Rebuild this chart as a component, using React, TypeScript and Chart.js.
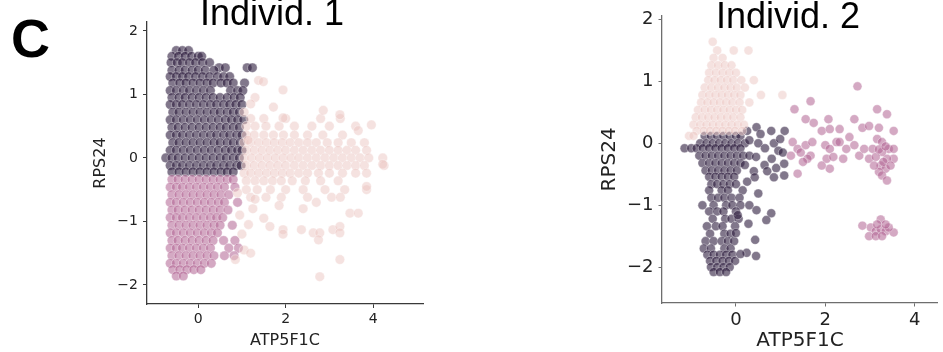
import React, { useEffect, useRef } from "react";
import { Chart, registerables } from "chart.js";

Chart.register(...registerables);

// ---------- Panel 1 (Individ. 1) ----------
// rows: [y, x values]
const ind1DarkRows: [number, number[]][] = [
  [1.69, [-0.5, -0.36, -0.22]],
  [1.6, [-0.6, -0.45, -0.3, -0.15, 0.0, 0.08]],
  [1.5, [-0.62, -0.48, -0.36, -0.2, -0.06, 0.1, 0.26]],
  [1.42, [0.48, 0.62, 1.12, 1.24]],
  [1.38, [-0.6, -0.44, -0.3, -0.14, 0.0, 0.16, 0.36]],
  [1.28, [-0.64, -0.5, -0.36, -0.22, -0.06, 0.1, 0.26, 0.44, 0.58, 0.72]],
  [1.18, [-0.58, -0.42, -0.28, -0.12, 0.04, 0.2, 0.34, 0.52, 0.66, 0.8, 1.06]],
  [1.06, [-0.64, -0.5, -0.34, -0.2, -0.04, 0.12, 0.28, 0.74, 0.9, 1.02]],
  [0.95, [-0.6, -0.44, -0.3, -0.14, 0.02, 0.18, 0.34, 0.5, 0.66, 0.82, 0.96]],
  [0.84, [-0.64, -0.5, -0.36, -0.2, -0.04, 0.12, 0.28, 0.42, 0.58, 0.72, 0.86, 1.0]],
  [0.72, [-0.58, -0.44, -0.28, -0.12, 0.04, 0.2, 0.36, 0.5, 0.66, 0.8, 0.94]],
  [0.6, [-0.64, -0.5, -0.34, -0.18, -0.02, 0.14, 0.3, 0.46, 0.62, 0.76, 0.9, 1.04]],
  [0.48, [-0.6, -0.46, -0.3, -0.14, 0.02, 0.18, 0.34, 0.5, 0.64, 0.8, 0.94]],
  [0.36, [-0.64, -0.5, -0.36, -0.2, -0.04, 0.12, 0.28, 0.42, 0.58, 0.72, 0.88, 1.0]],
  [0.24, [-0.58, -0.44, -0.28, -0.12, 0.04, 0.2, 0.36, 0.5, 0.66, 0.8, 0.96]],
  [0.12, [-0.64, -0.5, -0.34, -0.18, -0.02, 0.14, 0.3, 0.46, 0.62, 0.76, 0.9, 1.0]],
  [0.0, [-0.74, -0.6, -0.46, -0.3, -0.14, 0.02, 0.18, 0.34, 0.5, 0.64, 0.8, 0.94]],
  [-0.12, [-0.64, -0.5, -0.36, -0.2, -0.04, 0.12, 0.28, 0.42, 0.58, 0.72, 0.88, 0.98]],
  [-0.22, [-0.6, -0.44, -0.28, -0.12, 0.04, 0.2, 0.36, 0.52, 0.66, 0.8]],
];

const ind1PinkRows: [number, number[]][] = [
  [-0.34, [-0.6, -0.46, -0.3, -0.14, 0.02, 0.18, 0.34, 0.5, 0.66, 0.8]],
  [-0.46, [-0.64, -0.5, -0.36, -0.2, -0.04, 0.12, 0.28, 0.44, 0.6, 0.84]],
  [-0.58, [-0.6, -0.44, -0.28, -0.12, 0.04, 0.2, 0.36, 0.52, 0.7]],
  [-0.7, [-0.64, -0.5, -0.34, -0.18, -0.02, 0.14, 0.3, 0.46, 0.6, 0.9]],
  [-0.82, [-0.6, -0.46, -0.3, -0.14, 0.02, 0.18, 0.34, 0.5, 0.68]],
  [-0.94, [-0.64, -0.5, -0.36, -0.2, -0.04, 0.12, 0.28, 0.42, 0.56]],
  [-1.06, [-0.6, -0.44, -0.28, -0.12, 0.04, 0.2, 0.36, 0.5, 0.78]],
  [-1.18, [-0.64, -0.5, -0.34, -0.18, -0.02, 0.14, 0.3, 0.44]],
  [-1.3, [-0.6, -0.46, -0.3, -0.14, 0.02, 0.18, 0.34, 0.58, 0.84]],
  [-1.42, [-0.64, -0.5, -0.36, -0.2, -0.04, 0.12, 0.28, 0.7, 0.92]],
  [-1.54, [-0.6, -0.44, -0.28, -0.12, 0.04, 0.2, 0.36, 0.6, 0.82]],
  [-1.66, [-0.64, -0.5, -0.34, -0.18, -0.02, 0.14, 0.3]],
  [-1.76, [-0.58, -0.42, -0.26, -0.1, 0.06]],
  [-1.86, [-0.5, -0.34]],
];

const ind1LightRows: [number, number[]][] = [
  [0.62, [1.2, 1.5, 2.0, 2.8, 3.25]],
  [0.5, [1.1, 1.3, 1.55, 1.85, 2.2, 2.6, 3.0, 3.6]],
  [0.36, [1.1, 1.28, 1.5, 1.72, 1.95, 2.2, 2.5, 2.85, 3.3]],
  [0.24, [1.05, 1.2, 1.38, 1.56, 1.74, 1.92, 2.1, 2.3, 2.5, 2.7, 2.95, 3.2, 3.5, 3.8]],
  [0.12, [1.1, 1.28, 1.46, 1.64, 1.82, 2.0, 2.2, 2.4, 2.6, 2.8, 3.0, 3.2, 3.4, 3.6, 3.85]],
  [0.0, [1.05, 1.22, 1.4, 1.58, 1.76, 1.94, 2.12, 2.3, 2.5, 2.7, 2.9, 3.1, 3.3, 3.5, 3.7, 3.9, 4.22]],
  [-0.12, [1.1, 1.28, 1.46, 1.64, 1.82, 2.0, 2.2, 2.4, 2.6, 2.8, 3.0, 3.2, 3.4, 3.6, 3.8, 4.25]],
  [-0.24, [1.05, 1.2, 1.38, 1.56, 1.74, 1.92, 2.1, 2.3, 2.5, 2.75, 3.0, 3.3, 3.6, 3.85]],
  [-0.36, [1.1, 1.3, 1.5, 1.7, 1.9, 2.15, 2.45, 2.8, 3.2]],
  [-0.5, [1.1, 1.35, 1.65, 2.0, 2.4, 2.9, 3.35, 3.85]],
  [-0.62, [1.2, 1.55, 1.9, 2.5, 3.05, 3.25]],
];

const ind1LightScatter: [number, number][] = [
  [1.38, 1.22], [1.49, 1.2], [1.94, 1.07], [1.3, 0.95], [1.72, 0.8], [1.94, 0.63],
  [2.86, 0.75], [3.24, 0.68], [3.66, 0.43], [3.96, 0.52], [1.14, 0.28], [4.22, -0.1],
  [3.85, -0.45], [1.25, -0.8], [1.5, -0.95], [1.85, -0.75], [2.4, -0.8], [2.7, -0.7],
  [3.47, -0.87], [3.66, -0.87], [1.64, -1.08], [1.94, -1.13], [1.94, -1.2], [2.36, -1.13],
  [2.63, -1.18], [2.78, -1.18], [3.08, -1.13], [3.24, -1.08], [3.24, -1.18], [2.75, -1.29],
  [3.24, -1.6], [2.78, -1.87], [0.9, -0.55], [0.95, -0.9], [1.0, -1.2], [0.85, -1.6],
  [1.05, -1.45], [1.2, -1.5], [1.15, -1.05], [1.3, -0.65], [1.05, 0.72], [1.2, 0.85],
];

// ---------- Panel 2 (Individ. 2) ----------
const ind2LightRows: [number, number[]][] = [
  [1.64, [-0.52]],
  [1.5, [-0.42, -0.05, 0.28]],
  [1.38, [-0.5, -0.3]],
  [1.26, [-0.55, -0.4, -0.25, -0.1]],
  [1.14, [-0.6, -0.45, -0.3, -0.15, 0.0]],
  [1.02, [-0.62, -0.48, -0.34, -0.2, -0.06, 0.12, 0.4]],
  [0.9, [-0.7, -0.55, -0.4, -0.26, -0.12, 0.02, 0.2]],
  [0.78, [-0.75, -0.6, -0.46, -0.32, -0.18, -0.04, 0.1, 0.56, 1.04]],
  [0.66, [-0.78, -0.64, -0.5, -0.36, -0.22, -0.08, 0.08, 0.3]],
  [0.54, [-0.85, -0.7, -0.56, -0.42, -0.28, -0.14, 0.0, 0.14]],
  [0.42, [-0.9, -0.76, -0.62, -0.48, -0.34, -0.2, -0.06, 0.1]],
  [0.3, [-0.95, -0.8, -0.66, -0.52, -0.38, -0.24, -0.1, 0.04, 0.18]],
  [0.2, [-0.88, -0.72, -0.58, -0.44, -0.3, -0.16, -0.02, 0.14]],
  [0.12, [-1.05, -0.95]],
];

const ind2DarkRows: [number, number[]][] = [
  [0.12, [-0.7, -0.56, -0.42, -0.28, -0.14, 0.0, 0.1]],
  [0.0, [-0.8, -0.66, -0.52, -0.38, -0.24, -0.1, 0.04, 0.2]],
  [-0.08, [-1.15, -1.0, -0.88, -0.74, -0.6, -0.46, -0.32, -0.18, -0.04, 0.1]],
  [-0.2, [-0.82, -0.68, -0.54, -0.4, -0.26, -0.12, 0.02, 0.16]],
  [-0.32, [-0.75, -0.6, -0.46, -0.32, -0.18, -0.04, 0.1]],
  [-0.44, [-0.68, -0.54, -0.4, -0.26, -0.12, 0.02]],
  [-0.54, [-0.6, -0.46, -0.32, -0.18, -0.04]],
  [-0.66, [-0.55, -0.42, -0.28, -0.14, 0.0]],
  [-0.76, [-0.6, -0.32, -0.18, 0.15]],
  [-0.88, [-0.55, -0.4, -0.26, -0.1, 0.08]],
  [-1.0, [-0.75, -0.5, -0.22, -0.08, 0.1, 0.3]],
  [-1.1, [-0.6, -0.42, -0.28, 0.0]],
  [-1.22, [-0.52, -0.24, -0.1, 0.06]],
  [-1.34, [-0.65, -0.45, -0.3, -0.02]],
  [-1.46, [-0.58, -0.26, -0.12]],
  [-1.58, [-0.68, -0.5, -0.32, -0.18, -0.04]],
  [-1.7, [-0.72, -0.56, -0.26, -0.12]],
  [-1.8, [-0.64, -0.5, -0.36, -0.22, -0.08]],
  [-1.9, [-0.58, -0.44, -0.3, -0.16, -0.02]],
  [-2.0, [-0.56, -0.42, -0.28, -0.14]],
  [-2.08, [-0.5, -0.36, -0.22]],
];

const ind2DarkScatter: [number, number][] = [
  [0.25, 0.2], [0.46, 0.26], [0.55, 0.15], [0.79, 0.2], [1.09, 0.2], [0.3, 0.05],
  [0.5, 0.0], [0.65, -0.08], [0.85, 0.0], [0.99, 0.07], [0.95, -0.12], [1.05, -0.15],
  [0.3, -0.2], [0.45, -0.22], [0.64, -0.35], [0.8, -0.25], [0.2, -0.35], [0.4, -0.45],
  [0.7, -0.45], [0.9, -0.4], [1.08, -0.33], [0.42, -0.55], [0.85, -0.55], [1.08, -0.52],
  [0.25, -0.62], [0.5, -0.81], [0.79, -1.13], [0.68, -1.24], [0.46, -1.08], [0.28, -1.3],
  [0.43, -1.56], [0.45, -1.82], [0.24, -1.77], [0.1, -1.79], [0.0, -1.45], [0.04, -1.16],
];

const ind2PinkScatter: [number, number][] = [
  [1.31, 0.55], [1.67, 0.68], [1.56, 0.39], [1.74, 0.33], [2.07, 0.39], [1.92, 0.2],
  [2.1, 0.23], [2.32, 0.23], [2.65, 0.39], [2.72, 0.92], [3.16, 0.55], [3.38, 0.47],
  [2.83, 0.25], [2.98, 0.28], [3.2, 0.25], [3.53, 0.2], [1.27, 0.02], [1.38, -0.09],
  [1.56, -0.03], [1.67, -0.2], [1.6, -0.25], [2.0, -0.03], [2.1, -0.09], [2.25, 0.02],
  [2.03, -0.25], [2.18, -0.22], [2.1, -0.41], [1.92, -0.36], [2.4, -0.25], [2.47, -0.09],
  [2.65, -0.03], [2.76, -0.2], [2.87, -0.09], [1.38, -0.49], [2.98, -0.25], [3.06, -0.09],
  [3.16, 0.07], [3.27, 0.02], [3.42, -0.09], [3.53, -0.09], [3.53, -0.25], [3.38, -0.25],
  [3.27, -0.14], [3.13, -0.22], [3.24, -0.36], [3.35, -0.41], [3.2, -0.46], [3.27, -0.52],
  [3.38, -0.6], [3.09, -0.36], [3.3, -0.3], [3.46, -0.36], [1.23, -0.2], [1.71, 0.02],
  [2.54, 0.1], [2.32, 0.02], [1.45, -0.15], [1.5, -0.3], [3.2, -0.1], [3.35, -0.05],
  [3.24, -1.23], [2.83, -1.33], [3.02, -1.36], [3.13, -1.42], [3.24, -1.39], [3.35, -1.42],
  [3.53, -1.44], [2.98, -1.5], [3.13, -1.5], [3.27, -1.5], [3.42, -1.36], [3.35, -1.31],
  [3.16, -1.31],
];

// ---------- tick / axis definitions ----------
const ind1XRange = [-1.17, 5.14];
const ind1YRange = [-2.3, 2.14];
const ind2XRange = [-1.655, 4.52];
const ind2YRange = [-2.58, 2.06];
const xLabel = "ATP5F1C";
const yLabel = "RPS24";
const panelTitles = ["Individ. 1", "Individ. 2"];
const panelLetter = "C";

const DARK = "rgba(45,28,62,0.6)";
const PINK = "rgba(176,98,146,0.55)";
const LIGHT = "rgba(236,198,194,0.5)";

function fromRows(rows: [number, number[]][]) {
  return rows.flatMap(([y, xs]) => xs.map((x) => ({ x, y })));
}
function fromPairs(p: [number, number][]) {
  return p.map(([x, y]) => ({ x, y }));
}

const fmt = (v: any) => {
  const n = Number(v);
  return n < 0 ? "\u2212" + Math.abs(n) : String(n);
};

type PanelOpts = {
  datasets: any[];
  xr: number[];
  yr: number[];
  padding: any;
  yWidth: number;
  xHeight: number;
  tickSize: number;
  labelSize: number;
  axisColor: string;
  yTitlePad: number;
  xTitlePad: number;
  tickLen: number;
  texts: { text: string; x: number; y: number; font: string; align: CanvasTextAlign }[];
};

function makePanel(canvas: HTMLCanvasElement, o: PanelOpts) {
  const textPlugin = {
    id: "texts",
    afterDraw(chart: any) {
      const ctx = chart.ctx;
      ctx.save();
      ctx.fillStyle = "#000";
      ctx.textBaseline = "alphabetic";
      for (const t of o.texts) {
        ctx.font = t.font;
        ctx.textAlign = t.align;
        ctx.fillText(t.text, t.x, t.y);
      }
      ctx.restore();
    },
  };
  const axisCommon = (size: number) => ({
    grid: {
      display: true,
      drawOnChartArea: false,
      drawTicks: true,
      tickLength: o.tickLen,
      color: o.axisColor,
      lineWidth: 1,
    },
    border: { display: true, color: o.axisColor, width: 1.3 },
    ticks: {
      includeBounds: false,
      color: "#222",
      font: { family: "DejaVu Sans", size },
      callback: (v: any) => fmt(v),
    },
  });
  const xc: any = axisCommon(o.tickSize);
  const yc: any = axisCommon(o.tickSize);
  return new Chart(canvas, {
    type: "scatter",
    data: { datasets: o.datasets },
    plugins: [textPlugin],
    options: {
      responsive: false,
      animation: false,
      layout: { padding: o.padding },
      plugins: { legend: { display: false }, tooltip: { enabled: false } },
      scales: {
        x: {
          type: "linear",
          min: o.xr[0],
          max: o.xr[1],
          ...xc,
          ticks: { ...xc.ticks, stepSize: 2, padding: 3, maxRotation: 0 },
          title: {
            display: true,
            text: xLabel,
            color: "#222",
            font: { family: "DejaVu Sans", size: o.labelSize, lineHeight: 1 },
            padding: { top: 0, bottom: o.xTitlePad },
          },
          afterFit: (s: any) => {
            s.height = o.xHeight;
          },
        },
        y: {
          type: "linear",
          min: o.yr[0],
          max: o.yr[1],
          ...yc,
          ticks: { ...yc.ticks, stepSize: 1, padding: 5 },
          title: {
            display: true,
            text: yLabel,
            color: "#222",
            font: { family: "DejaVu Sans", size: o.labelSize, lineHeight: 1 },
            padding: { top: o.yTitlePad, bottom: 0 },
          },
          afterFit: (s: any) => {
            s.width = o.yWidth;
          },
        },
      },
    } as any,
  });
}

const ds = (data: any[], color: string, r: number) => ({
  data,
  backgroundColor: color,
  borderColor: "rgba(255,255,255,0.6)",
  borderWidth: 0.6,
  pointRadius: r,
  pointHoverRadius: r,
});

export default function App() {
  const c1 = useRef<HTMLCanvasElement>(null);
  const c2 = useRef<HTMLCanvasElement>(null);

  useEffect(() => {
    document.body.style.margin = "0";
    const ch1 = makePanel(c1.current!, {
      datasets: [
        ds([...fromRows(ind1LightRows), ...fromPairs(ind1LightScatter)], LIGHT, 4.8),
        ds(fromRows(ind1PinkRows), PINK, 4.8),
        ds(fromRows(ind1DarkRows), DARK, 4.8),
      ],
      xr: ind1XRange,
      yr: ind1YRange,
      padding: { top: 22, right: 47, left: 0, bottom: 0 },
      yWidth: 147,
      xHeight: 48,
      tickSize: 14,
      labelSize: 16,
      axisColor: "#3a3a3a",
      yTitlePad: 93,
      xTitlePad: 3,
      tickLen: 4,
      texts: [
        { text: panelLetter, x: 11, y: 57, font: "bold 54px 'Liberation Sans', Arial, sans-serif", align: "left" },
        { text: panelTitles[0], x: 272, y: 25, font: "36px 'Liberation Sans', Arial, sans-serif", align: "center" },
      ],
    });
    const ch2 = makePanel(c2.current!, {
      datasets: [
        ds(fromRows(ind2LightRows), LIGHT, 4.5),
        ds(fromPairs(ind2PinkScatter), PINK, 4.5),
        ds([...fromRows(ind2DarkRows), ...fromPairs(ind2DarkScatter)], DARK, 4.5),
      ],
      xr: ind2XRange,
      yr: ind2YRange,
      padding: { top: 12, right: 0, left: 0, bottom: 0 },
      yWidth: 192,
      xHeight: 49,
      tickSize: 18,
      labelSize: 20,
      axisColor: "#6e6e6e",
      yTitlePad: 130,
      xTitlePad: 1,
      tickLen: 3.5,
      texts: [
        { text: panelTitles[1], x: 318, y: 28, font: "36px 'Liberation Sans', Arial, sans-serif", align: "center" },
      ],
    });
    return () => {
      ch1.destroy();
      ch2.destroy();
    };
  }, []);

  return (
    <div style={{ position: "fixed", left: 0, top: 0, width: 943, height: 352, background: "#fff", overflow: "hidden" }}>
      <canvas ref={c1} width={470} height={352} style={{ position: "absolute", left: 0, top: 0, width: 470, height: 352 }} />
      <canvas ref={c2} width={473} height={352} style={{ position: "absolute", left: 470, top: 0, width: 473, height: 352 }} />
    </div>
  );
}
